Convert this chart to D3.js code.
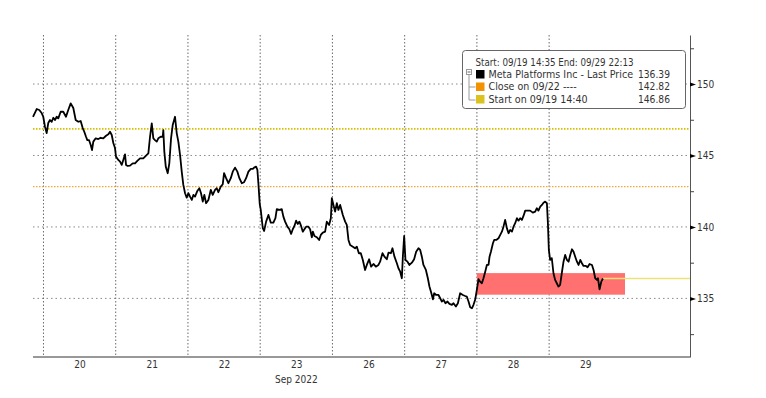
<!DOCTYPE html>
<html>
<head>
<meta charset="utf-8">
<script src="https://cdn.jsdelivr.net/npm/d3@7"></script>
<style>
  body { margin: 0; background: #fff; }
  .chart text { font-family: "DejaVu Sans Condensed", "DejaVu Sans", sans-serif; fill: #333; }
</style>
</head>
<body>
<div class="chart"></div>
<script>
// intraday prices, [fraction of session, price]
const sep19 = [[.855,147.7],[.906,148.25],[.942,148.18],[.975,147.97],[.997,147.71]];
const sep20 = [[.021,147.01],[.044,146.57],[.066,147.27],[.090,147.48],[.114,147.36],[.136,147.64],[.159,147.48],[.183,147.71],[.205,147.6],[.238,148.06],[.274,148.06],[.312,147.71],[.343,148.18],[.377,148.65],[.413,148.32],[.446,147.48],[.482,147.36],[.515,147.41],[.543,146.92],[.565,146.66],[.589,146.31],[.607,146.08],[.630,146.08],[.654,145.73],[.672,145.38],[.690,145.97],[.723,146.2],[.759,146.15],[.792,146.24],[.828,146.2],[.866,146.38],[.898,146.48],[.921,146.66],[.945,146.43],[.967,145.87],[.990,145.52]];
const sep21 = [[.004,144.92],[.036,144.69],[.060,144.57],[.083,144.34],[.105,144.69],[.129,145.08],[.143,144.34],[.166,144.27],[.198,144.29],[.235,144.45],[.267,144.45],[.299,144.62],[.337,144.8],[.382,144.8],[.406,144.92],[.452,145.15],[.475,146.31],[.499,147.25],[.521,146.2],[.544,146.08],[.568,145.97],[.590,146.2],[.623,146.31],[.651,146.31],[.659,146.78],[.673,145.27],[.693,144.22],[.720,143.76],[.742,144.45],[.766,146.2],[.789,147.13],[.821,147.71],[.845,146.55],[.867,145.97],[.891,145.03],[.914,143.87],[.936,142.94],[.960,142.36],[.983,142.05]];
const sep22 = [[.006,142.36],[.029,142.12],[.053,141.89],[.075,142.24],[.098,142.12],[.130,142.52],[.158,142.71],[.181,142.36],[.205,141.77],[.227,142.24],[.251,141.66],[.283,141.89],[.316,142.59],[.343,142.24],[.375,142.59],[.399,142.71],[.421,142.43],[.454,142.82],[.482,142.99],[.500,143.76],[.528,143.41],[.560,143.06],[.593,143.41],[.620,143.87],[.652,144.15],[.684,143.87],[.712,143.41],[.745,143.06],[.777,143.13],[.805,143.41],[.837,143.87],[.870,144.06],[.898,144.06],[.916,144.15],[.943,144.22],[.961,144.0],[.975,143.06],[.994,141.6]];
const sep23 = [[.008,141.19],[.036,139.91],[.054,139.72],[.082,140.37],[.114,140.84],[.147,140.3],[.183,140.3],[.211,140.61],[.230,141.24],[.266,141.19],[.299,141.24],[.321,140.72],[.345,140.37],[.377,140.02],[.404,139.84],[.428,139.51],[.451,139.84],[.474,140.07],[.497,140.44],[.520,140.21],[.543,140.37],[.566,140.07],[.590,139.67],[.612,139.84],[.636,140.02],[.668,140.02],[.691,139.84],[.715,139.28],[.729,139.67],[.751,139.37],[.784,139.28],[.816,139.09],[.839,139.44],[.867,139.6],[.899,139.67],[.922,140.37],[.954,140.14],[.978,140.61],[.992,142.01]];
const sep26 = [[.014,141.54],[.037,141.07],[.061,141.66],[.083,141.19],[.107,141.54],[.144,140.84],[.176,140.37],[.199,140.14],[.222,139.09],[.245,138.74],[.283,138.62],[.314,138.51],[.338,138.62],[.366,138.16],[.393,138.16],[.421,137.69],[.452,136.99],[.476,137.34],[.508,137.74],[.536,137.22],[.568,137.41],[.601,137.22],[.637,137.34],[.660,137.57],[.693,138.16],[.720,137.92],[.753,137.74],[.776,138.2],[.809,138.16],[.831,138.51],[.859,137.92],[.892,137.46],[.914,137.11],[.938,136.87],[.961,136.41],[.975,137.92],[.993,139.37]];
const sep27 = [[.011,137.69],[.039,137.57],[.066,137.34],[.100,137.5],[.131,137.74],[.159,138.27],[.191,138.51],[.215,138.39],[.238,137.92],[.260,137.34],[.294,136.99],[.321,136.41],[.343,135.83],[.367,135.41],[.391,134.94],[.409,135.36],[.436,135.24],[.468,135.24],[.492,135.01],[.515,134.78],[.537,134.9],[.565,134.66],[.593,134.78],[.620,134.62],[.654,134.55],[.676,134.66],[.709,134.43],[.737,134.66],[.768,135.36],[.806,135.24],[.838,135.17],[.860,135.13],[.884,134.78],[.907,134.38],[.931,134.31],[.953,134.55],[.976,134.9],[.999,135.59]];
const sep28 = [[.022,136.34],[.045,136.17],[.069,136.06],[.091,136.41],[.115,136.87],[.138,137.34],[.161,137.34],[.175,137.92],[.194,138.27],[.222,138.86],[.240,139.09],[.268,139.09],[.299,139.21],[.323,139.44],[.346,139.67],[.368,140.02],[.391,140.49],[.416,139.9],[.438,139.56],[.461,139.79],[.485,139.67],[.507,140.02],[.530,140.26],[.554,140.61],[.576,140.44],[.599,140.61],[.623,140.49],[.645,140.77],[.669,141.14],[.700,141.14],[.737,141.14],[.774,141.0],[.807,141.07],[.830,141.31],[.852,141.14],[.877,141.42],[.900,141.54],[.922,141.7],[.945,141.77],[.969,141.66],[.983,140.26],[.996,138.39]];
const sep29 = [[.014,137.69],[.037,137.81],[.060,136.76],[.083,136.29],[.106,136.06],[.129,135.83],[.152,135.94],[.175,136.76],[.199,137.57],[.222,138.04],[.246,137.69],[.269,137.57],[.292,138.04],[.316,138.44],[.338,138.27],[.361,137.92],[.385,137.57],[.407,137.34],[.431,137.69],[.454,137.46],[.476,137.27],[.510,137.27],[.532,137.18],[.560,137.41],[.593,137.34],[.615,136.99],[.638,136.41],[.662,136.29],[.676,136.41],[.698,135.64],[.722,136.17],[.745,136.39]];

const dayLabels = ["20", "21", "22", "23", "26", "27", "28", "29"];
const monthLabel = "Sep 2022";
const yTicks = [135, 140, 145, 150];
const yMinorTicks = [132.5, 137.5, 142.5, 147.5, 152.5];

const lastPrice = 136.39;
const closeLevel = 142.82;
const startLevel = 146.86;
const rangeBox = { from: 6, to: 8.05, low: 135.26, high: 136.77 };

const legendHeader = "Start: 09/19 14:35 End: 09/29 22:13";
const legendNames = ["Meta Platforms Inc - Last Price", "Close on 09/22 ----", "Start on 09/19 14:40"];
const legendValues = [lastPrice, closeLevel, startLevel];
const legendColors = ["#000000", "#f39200", "#dcc21e"];

// session -1 is Sep 19, 0..7 the labelled days
const sessions = [sep19, sep20, sep21, sep22, sep23, sep26, sep27, sep28, sep29];
const series = [];
sessions.forEach((pts, i) => {
  pts.forEach((p) => series.push({ t: i - 1 + p[0], v: p[1] }));
});

let width = 766,
  height = 398,
  plot = { left: 33, right: 690, top: 35, bottom: 357 };

let svg = d3
  .select(".chart")
  .append("svg")
  .attr("width", width)
  .attr("height", height);

let x = d3.scaleLinear().domain([-0.145, 8.95]).range([plot.left, plot.right]);
let y = d3.scaleLinear().domain([130.9, 153.43]).range([plot.bottom, plot.top]);

// GRID
svg.append("g")
  .selectAll("line")
  .data(yTicks)
  .enter()
  .append("line")
  .attr("x1", plot.left)
  .attr("x2", plot.right)
  .attr("y1", (d) => y(d))
  .attr("y2", (d) => y(d))
  .attr("stroke", "#8a8a8a")
  .attr("stroke-dasharray", "1.5,3");

svg.append("g")
  .selectAll("line")
  .data(d3.range(dayLabels.length))
  .enter()
  .append("line")
  .attr("x1", (d) => x(d))
  .attr("x2", (d) => x(d))
  .attr("y1", plot.top)
  .attr("y2", plot.bottom)
  .attr("stroke", "#6a6a6a")
  .attr("stroke-dasharray", "1.5,2");

// range box
svg.append("rect")
  .attr("x", x(rangeBox.from))
  .attr("y", y(rangeBox.high))
  .attr("width", x(rangeBox.to) - x(rangeBox.from))
  .attr("height", y(rangeBox.low) - y(rangeBox.high))
  .attr("fill", "#ff7070");

// level lines
svg.append("line")
  .attr("x1", plot.left).attr("x2", plot.right)
  .attr("y1", y(startLevel)).attr("y2", y(startLevel))
  .attr("stroke", "#d8c000")
  .attr("stroke-width", 1.6)
  .attr("stroke-dasharray", "1.5,1.5");

svg.append("line")
  .attr("x1", plot.left).attr("x2", plot.right)
  .attr("y1", y(closeLevel)).attr("y2", y(closeLevel))
  .attr("stroke", "#f5a535")
  .attr("stroke-width", 1.3)
  .attr("stroke-dasharray", "1.5,1.5");

const lastT = series[series.length - 1].t;
svg.append("line")
  .attr("x1", x(lastT)).attr("x2", plot.right)
  .attr("y1", y(lastPrice)).attr("y2", y(lastPrice))
  .attr("stroke", "#ebe37a")
  .attr("stroke-width", 1.5);

// price line
let line = d3.line().x((d) => x(d.t)).y((d) => y(d.v));
svg.append("path")
  .datum(series)
  .attr("d", line)
  .attr("fill", "none")
  .attr("stroke", "#000")
  .attr("stroke-width", 1.8)
  .attr("stroke-linejoin", "round");

// AXIS
const xAxisGroup = svg.append("g")
  .attr("class", "axis x-axis")
  .attr("transform", "translate(0," + plot.bottom + ")")
  .call(
    d3.axisBottom(x)
      .tickValues(dayLabels.map((d, i) => i + 0.5))
      .tickFormat((d, i) => dayLabels[i])
      .tickSize(0)
      .tickPadding(4)
  );
xAxisGroup.select(".domain").remove();
xAxisGroup.selectAll("text").attr("font-size", 10).style("font-family", null);

svg.append("line")
  .attr("x1", plot.left).attr("x2", plot.right)
  .attr("y1", plot.bottom).attr("y2", plot.bottom)
  .attr("stroke", "#333");

svg.append("text")
  .attr("x", x(3.5))
  .attr("y", plot.bottom + 26)
  .attr("text-anchor", "middle")
  .attr("font-size", 10)
  .text(monthLabel);

const yMinor = svg.append("g")
  .attr("transform", "translate(" + plot.right + ",0)")
  .call(d3.axisRight(y).tickValues(yMinorTicks).tickSize(4).tickSizeOuter(0).tickFormat(""));
yMinor.selectAll("line").attr("stroke", "#444");
yMinor.select(".domain").attr("stroke", "#555");

const yAxisGroup = svg.append("g")
  .attr("class", "axis y-axis")
  .attr("transform", "translate(" + plot.right + ",0)")
  .call(d3.axisRight(y).tickValues(yTicks).tickSize(0).tickPadding(7));
yAxisGroup.select(".domain").remove();
yAxisGroup.selectAll("text").attr("font-size", 10).style("font-family", null);
yAxisGroup.selectAll(".tick")
  .append("path")
  .attr("d", "M0,-2L6,0L0,2Z")
  .attr("fill", "#000");

// LEGEND
const legend = svg.append("g").attr("transform", "translate(462.5,50.5)");
legend.append("rect")
  .attr("width", 223)
  .attr("height", 58)
  .attr("rx", 3)
  .attr("fill", "#fff")
  .attr("stroke", "#666");

legend.append("text")
  .attr("x", 13)
  .attr("y", 15.5)
  .attr("font-size", 9.7)
  .text(legendHeader);

// tree connector
legend.append("path")
  .attr("d", "M6.5,24.5V49.5H13M6.5,36.5H13")
  .attr("fill", "none")
  .attr("stroke", "#999");
legend.append("rect")
  .attr("x", 4).attr("y", 19)
  .attr("width", 5).attr("height", 5)
  .attr("fill", "#fff")
  .attr("stroke", "#999");
legend.append("path")
  .attr("d", "M5,21.5H8")
  .attr("stroke", "#666");

const rows = legend.selectAll(".row")
  .data(legendNames)
  .enter()
  .append("g")
  .attr("class", "row")
  .attr("transform", (d, i) => "translate(0," + (27 + i * 12.5) + ")");

rows.append("rect")
  .attr("x", 13.5)
  .attr("y", -7.5)
  .attr("width", 8.5)
  .attr("height", 8.5)
  .attr("fill", (d, i) => legendColors[i]);

rows.append("text")
  .attr("x", 26)
  .attr("font-size", 10.6)
  .text((d) => d);

rows.append("text")
  .attr("x", 207.5)
  .attr("text-anchor", "end")
  .attr("font-size", 10.2)
  .text((d, i) => legendValues[i].toFixed(2));
</script>
</body>
</html>
